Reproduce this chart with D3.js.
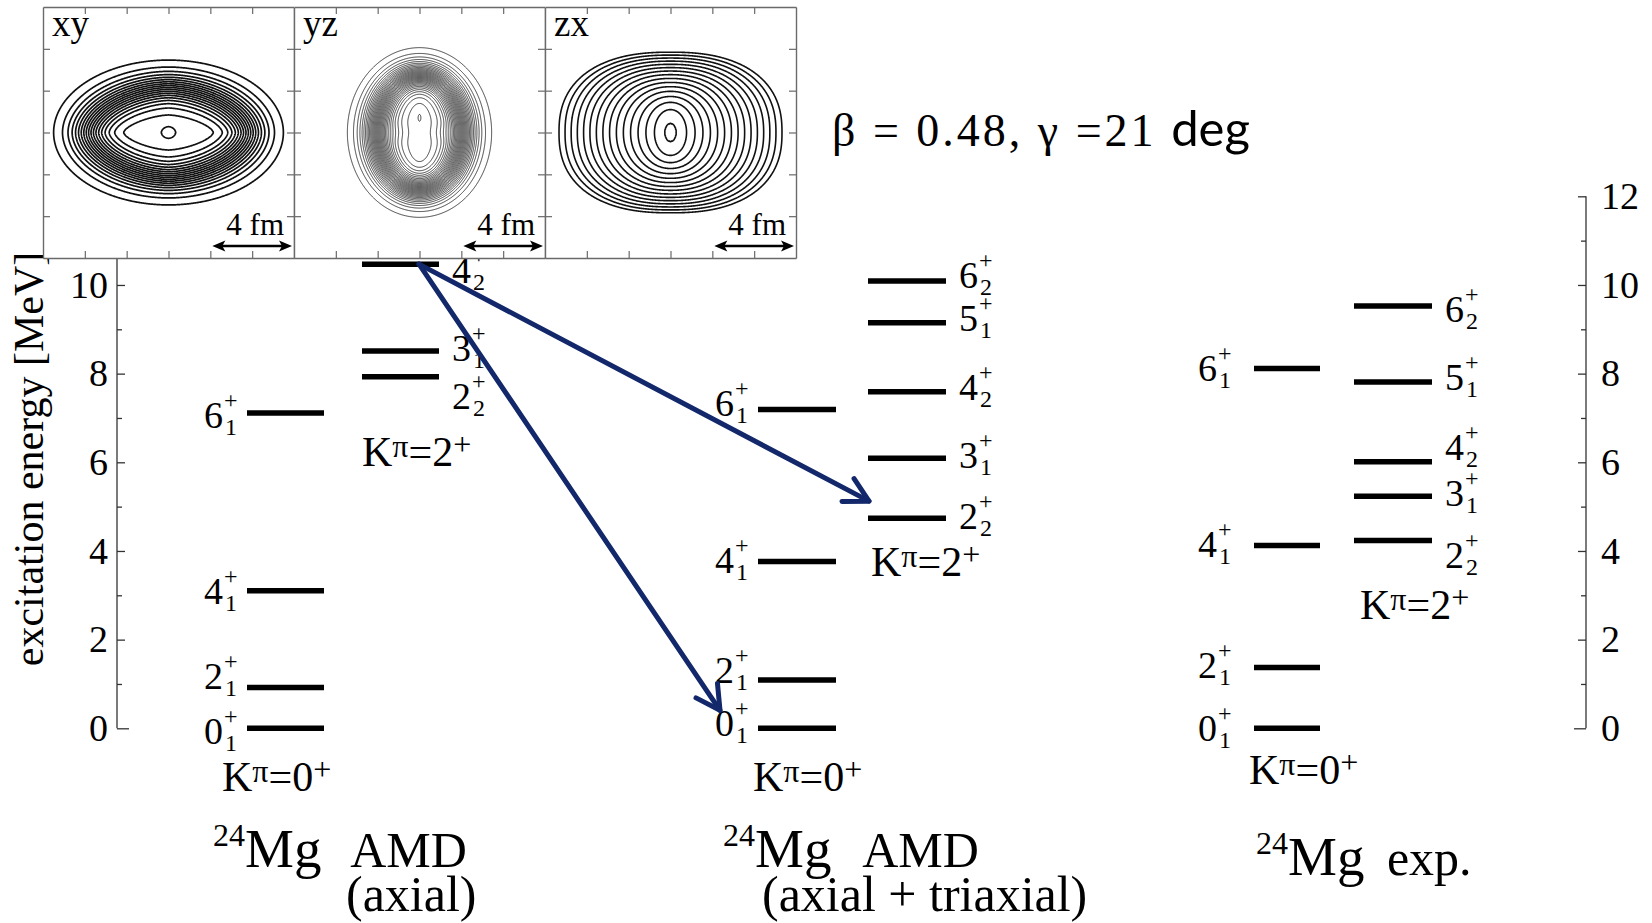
<!DOCTYPE html>
<html>
<head>
<meta charset="utf-8">
<script src="https://cdn.jsdelivr.net/npm/d3@7"></script>
<style>
  html, body { margin: 0; padding: 0; background: #fff; }
  svg { display: block; }
  text { font-family: "Liberation Serif", "Times New Roman", serif; fill: #000; }
</style>
</head>
<body>
<svg id="chart" width="1652" height="923"></svg>
<script>
// ---------------- level energies (MeV) ----------------
const groundSpins = [0, 2, 4, 6];
const groundIndex = [1, 1, 1, 1];
const groundAxial = [0, 0.92, 3.10, 7.11];
const groundTriaxial = [0, 1.09, 3.76, 7.19];
const groundExp = [0, 1.369, 4.123, 8.113];

const gammaSpinsAxial = [2, 3, 4];
const gammaIndexAxial = [2, 1, 2];
const gammaAxial = [7.93, 8.51, 10.47];

const gammaSpins = [2, 3, 4, 5, 6];
const gammaIndex = [2, 1, 2, 1, 2];
const gammaTriaxial = [4.74, 6.09, 7.59, 9.15, 10.09];
const gammaExp = [4.238, 5.235, 6.010, 7.812, 9.528];

const energyTicks = [0, 2, 4, 6, 8, 10, 12];
const energyMinorTicks = [1, 3, 5, 7, 9, 11];

const spectrumTitles = [
  { key: "axial", line1: "AMD", line2: "(axial)" },
  { key: "triaxial", line1: "AMD", line2: "(axial + triaxial)" },
  { key: "exp", line1: "exp.", line2: "" }
];
const deformationText = "β = 0.48, γ =21 ";
const deformationUnit = "deg";

// transitions drawn as arrows: [band, level index]
const transitions = [
  { from: ["axial:K2", 2], to: ["triaxial:K2", 0] },
  { from: ["axial:K2", 2], to: ["triaxial:K0", 0] }
];

// density-map insets
const planes = ["xy", "yz", "zx"];
const fmTicks = [-4, -2, 0, 2, 4];
const scaleBarFm = [2, 6];

// ---------------- layout ----------------
const svg = d3.select("#chart");
const y = d3.scaleLinear().domain([0, 12]).range([728.3, 196.3]);

const bands = [
  { key: "axial:K0", K: 0, energies: groundAxial, spins: groundSpins, index: groundIndex },
  { key: "axial:K2", K: 2, energies: gammaAxial, spins: gammaSpinsAxial, index: gammaIndexAxial },
  { key: "triaxial:K0", K: 0, energies: groundTriaxial, spins: groundSpins, index: groundIndex },
  { key: "triaxial:K2", K: 2, energies: gammaTriaxial, spins: gammaSpins, index: gammaIndex },
  { key: "exp:K0", K: 0, energies: groundExp, spins: groundSpins, index: groundIndex },
  { key: "exp:K2", K: 2, energies: gammaExp, spins: gammaSpins, index: gammaIndex }
];
const bandByKey = new Map(bands.map(b => [b.key, b]));
const barStart = d3.scaleOrdinal()
  .domain(bands.map(b => b.key))
  .range([247, 362, 758, 868, 1254, 1354]);
const barLength = d3.scaleOrdinal()
  .domain(bands.map(b => b.key))
  .range([77, 77, 78, 78, 66, 78]);
// horizontal gap between a bar and the left edge of its spin label digit
const labelGap = d3.scaleOrdinal()
  .domain(bands.map(b => b.key))
  .range([43, 13, 43, 13, 56, 13]);

// vertical nudges of spin labels so neighbouring labels do not collide
const labelNudge = {
  "axial:K0": [3, -11, 1, 2],
  "axial:K2": [20, -3, 6],
  "triaxial:K0": [-5, -9, -1, -6],
  "triaxial:K2": [-2, -3, -4, -4, -5],
  "exp:K0": [0, -2, -1, 0],
  "exp:K2": [15, -3, -14, -4, 4]
};
// position of the K^pi tag of each band [x, baseline]
const bandTagPos = {
  "axial:K0": [222, 791], "axial:K2": [362, 466],
  "triaxial:K0": [753, 791], "triaxial:K2": [871, 576],
  "exp:K0": [1249, 784], "exp:K2": [1360, 619]
};
const titlePos = {
  axial: { x: 213, y: 867, gap: 19, x2: 346, y2: 911 },
  triaxial: { x: 723, y: 867, gap: 21, x2: 762, y2: 911 },
  exp: { x: 1256, y: 875, gap: 10 }
};

// ---------------- energy axes ----------------
function styleAxis(g, size) {
  g.attr("font-family", null).attr("font-size", null);
  g.selectAll(".tick line").attr("stroke", "#333").attr("stroke-width", 1.3);
  g.selectAll(".tick text").attr("font-size", size).attr("fill", "#000")
    .style("font-family", '"Liberation Serif","Times New Roman",serif');
}
function drawEnergyAxis(x, side) {
  const major = (side === "left" ? d3.axisLeft(y) : d3.axisRight(y))
    .tickValues(energyTicks).tickSize(-8).tickSizeOuter(0)
    .tickPadding(side === "left" ? 9 : 15).tickFormat(d3.format("d"));
  const minor = (side === "left" ? d3.axisLeft(y) : d3.axisRight(y))
    .tickValues(energyMinorTicks).tickSize(-5).tickSizeOuter(0).tickFormat("");
  const g = svg.append("g").attr("transform", `translate(${x},0)`);
  const gMaj = g.append("g").call(major);
  const gMin = g.append("g").call(minor);
  gMaj.select(".domain").remove();
  gMin.select(".domain").remove();
  styleAxis(gMaj, 38);
  styleAxis(gMin, 38);
  gMaj.selectAll(".tick line").filter(d => d === 0)
    .attr("x2", side === "left" ? 12 : -12);
  g.append("line").attr("x1", 0).attr("x2", 0)
    .attr("y1", y(0)).attr("y2", y(12))
    .attr("stroke", "#333").attr("stroke-width", 1.3);
}
drawEnergyAxis(117, "left");
drawEnergyAxis(1586, "right");

svg.append("text")
  .attr("transform", "translate(43,459) rotate(-90)")
  .attr("text-anchor", "middle")
  .attr("font-size", 42)
  .text("excitation energy [MeV]");

// ---------------- levels ----------------
const gLevels = svg.append("g");
bands.forEach(b => {
  const x0 = barStart(b.key), len = barLength(b.key);
  const g = gLevels.append("g");
  g.selectAll("line.level").data(b.energies).join("line")
    .attr("class", "level")
    .attr("x1", x0).attr("x2", x0 + len)
    .attr("y1", d => y(d)).attr("y2", d => y(d))
    .attr("stroke", "#000").attr("stroke-width", 5.5);

  const lab = g.selectAll("g.lab").data(b.energies).join("g").attr("class", "lab");
  lab.each(function (e, i) {
    const base = y(e) + labelNudge[b.key][i] + 12.5;
    const dx = b.K === 0 ? x0 - labelGap(b.key) : x0 + len + labelGap(b.key);
    const t = d3.select(this);
    t.append("text").attr("x", dx).attr("y", base).attr("font-size", 38).text(b.spins[i]);
    t.append("text").attr("x", dx + 20).attr("y", base - 20).attr("font-size", 24).text("+");
    t.append("text").attr("x", dx + 21).attr("y", base + 7).attr("font-size", 24).text(b.index[i]);
  });

  const [tx, ty] = bandTagPos[b.key];
  const tag = g.append("text").attr("x", tx).attr("y", ty).attr("font-size", 42);
  tag.append("tspan").text("K");
  tag.append("tspan").attr("font-size", 32).attr("dy", -9).text("π");
  tag.append("tspan").attr("dy", 9).text("=" + b.K);
  tag.append("tspan").attr("font-size", 32).attr("dy", -11).text("+");
});

// ---------------- spectrum titles ----------------
spectrumTitles.forEach(s => {
  const p = titlePos[s.key];
  const t = svg.append("text").attr("x", p.x).attr("y", p.y).attr("font-size", 50);
  t.append("tspan").attr("font-size", 32).attr("dy", -21).text("24");
  t.append("tspan").attr("font-size", 55).attr("dy", 21).text("Mg");
  t.append("tspan").attr("dx", p.gap).text(" " + s.line1);
  if (s.line2) {
    svg.append("text").attr("x", p.x2).attr("y", p.y2).attr("font-size", 50).text(s.line2);
  }
});

// deformation parameters
const dtext = svg.append("text").attr("x", 832).attr("y", 146).attr("font-size", 46);
dtext.append("tspan").attr("letter-spacing", 3).text(deformationText);
dtext.append("tspan").attr("font-size", 49)
  .style("font-family", "Lato, 'Open Sans', sans-serif").text(deformationUnit);

// ---------------- transition arrows ----------------
const arrowStartAlong = 57;           // px along the origin bar
const arrowTipOffset = [[1, -17], [-38, -18]];
const gArrows = svg.append("g")
  .attr("stroke", "#12286a").attr("stroke-width", 5)
  .attr("fill", "none").attr("stroke-linecap", "round").attr("stroke-linejoin", "round");
transitions.forEach((tr, k) => {
  const fb = bandByKey.get(tr.from[0]), tb = bandByKey.get(tr.to[0]);
  const sx = barStart(tr.from[0]) + arrowStartAlong;
  const sy = y(fb.energies[tr.from[1]]);
  const ex = barStart(tr.to[0]) + arrowTipOffset[k][0];
  const ey = y(tb.energies[tr.to[1]]) + arrowTipOffset[k][1];
  const ang = Math.atan2(ey - sy, ex - sx);
  const L = 27, h = 0.5;
  gArrows.append("line").attr("x1", sx).attr("y1", sy).attr("x2", ex).attr("y2", ey);
  const a1 = [ex + L * Math.cos(ang + Math.PI - h), ey + L * Math.sin(ang + Math.PI - h)];
  const a2 = [ex + L * Math.cos(ang + Math.PI + h), ey + L * Math.sin(ang + Math.PI + h)];
  gArrows.append("path").attr("d", `M${a1[0]},${a1[1]}L${ex},${ey}L${a2[0]},${a2[1]}`);
});

// ---------------- density-map insets ----------------
// Each map is a model density: a family of nested closed curves C(s)
// (superellipses whose half axes grow from the central plateau, s=0,
// to the surface, s=1), mapped to density through a profile; contours
// are then traced with d3.contours at equal density steps.
const densityModels = {
  xy: { a: [2.15, 5.49], b: [0.84, 3.46], p: [1.55, 2.0], qa: 1, qb: 1, pinch: 0,
        profile: s => 1 / (1 + Math.exp((s - 0.5) / 0.17)),
        bumps: [{ x: 0, y: 0, amp: 0.035, sx: 0.25, sy: 0.25 }],
        levels: d3.range(1, 20).map(k => k * 0.05).concat([1.0]),
        width: 1.7 },
  yz: { a: [0.48, 3.59], b: [1.25, 4.19], p: [2, 2], qa: 1, qb: 1, pinch: 0.2,
        profile: s => 1 / (1 + Math.exp((s - 0.5) / 0.13)),
        bumps: [{ x: 0, y: 0.72, amp: 0.03, sx: 0.04, sy: 0.1 }],
        levels: d3.range(1, 34).map(k => k * 0.0294).concat([1.0]),
        width: 0.8 },
  zx: { a: [0.26, 5.33], b: [0.42, 3.84], p: [2.0, 2.4], qa: 0.85, qb: 0.6, pinch: 0,
        profile: s => 1 - s,
        bumps: [],
        levels: d3.range(0, 16).map(k => 1 - k / 15),
        width: 1.6 }
};

function curveParam(x, y0, m) {
  const ax = Math.abs(x), ay = Math.abs(y0);
  const pinchY = m.pinch ? m.pinch * Math.exp(-y0 * y0 / 0.18) : 0;
  const G = s => {
    let a = m.a[0] + (m.a[1] - m.a[0]) * (m.qa === 1 ? s : Math.pow(s, m.qa));
    const b = m.b[0] + (m.b[1] - m.b[0]) * (m.qb === 1 ? s : Math.pow(s, m.qb));
    const p = m.p[0] + (m.p[1] - m.p[0]) * Math.min(s, 1);
    if (pinchY) a *= 1 - pinchY * Math.max(0, 1 - s / 0.35);
    const u = ax / a, v = ay / b;
    return p === 2 ? u * u + v * v : Math.pow(u, p) + Math.pow(v, p);
  };
  const g0 = G(0);
  if (g0 <= 1) return -(1 - Math.sqrt(g0)) * 0.3;
  let lo = 0, hi = 2;
  if (G(hi) > 1) return hi;
  for (let k = 0; k < 26; k++) {
    const mid = (lo + hi) / 2;
    if (G(mid) > 1) lo = mid; else hi = mid;
  }
  return (lo + hi) / 2;
}

const insetSize = 251, insetTop = 7;
const insetLeft = [43, 294, 545];
const N = 420;

const gInsets = svg.append("g");
planes.forEach((plane, pi) => {
  const x0 = insetLeft[pi];
  const xs = d3.scaleLinear().domain([-6, 6]).range([x0, x0 + insetSize]);
  const ys = d3.scaleLinear().domain([-6, 6]).range([insetTop + insetSize, insetTop]);
  const g = gInsets.append("g");
  g.append("rect").attr("x", x0).attr("y", insetTop)
    .attr("width", insetSize).attr("height", insetSize).attr("fill", "#fff");

  const m = densityModels[plane];
  const values = new Float64Array(N * N);
  for (let j = 0; j < N; j++) {
    const yy = 6 - (j + 0.5) * 12 / N;
    for (let i = 0; i < N; i++) {
      const xx = -6 + (i + 0.5) * 12 / N;
      let v = m.profile(curveParam(xx, yy, m));
      for (const bp of m.bumps) {
        v += bp.amp * Math.exp(-((xx - bp.x) ** 2) / (2 * bp.sx * bp.sx) - ((yy - bp.y) ** 2) / (2 * bp.sy * bp.sy));
      }
      values[j * N + i] = v;
    }
  }
  const contours = d3.contours().size([N, N]).thresholds(m.levels)(values);
  const path = d3.geoPath(d3.geoIdentity().scale(insetSize / N).translate([x0, insetTop]));
  g.append("g").selectAll("path").data(contours).join("path")
    .attr("d", path).attr("fill", "none")
    .attr("stroke", "#111").attr("stroke-width", m.width);

  // frame with inward ticks on all four sides
  const frame = [
    [d3.axisTop(xs), `translate(0,${insetTop})`],
    [d3.axisBottom(xs), `translate(0,${insetTop + insetSize})`],
    [d3.axisLeft(ys), `translate(${x0},0)`],
    [d3.axisRight(ys), `translate(${x0 + insetSize},0)`]
  ];
  frame.forEach(([ax, tr]) => {
    const ga = g.append("g").attr("transform", tr)
      .call(ax.tickValues(fmTicks).tickSize(-7).tickSizeOuter(0).tickFormat(""));
    ga.select(".domain").attr("stroke", "#6a6a6a").attr("stroke-width", 1.4);
    ga.selectAll(".tick line").attr("stroke", "#6a6a6a").attr("stroke-width", 1.2);
  });

  g.append("text").attr("x", x0 + 9).attr("y", 36).attr("font-size", 37).text(plane);
  g.append("text").attr("x", xs(6) - 10).attr("y", 235).attr("text-anchor", "end")
    .attr("font-size", 31).text("4 fm");

  // 4 fm scale bar with two arrowheads
  const bx1 = xs(scaleBarFm[0]) + 2, bx2 = xs(scaleBarFm[1]) - 2, by = 246;
  g.append("line").attr("x1", bx1 + 8).attr("x2", bx2 - 8).attr("y1", by).attr("y2", by)
    .attr("stroke", "#000").attr("stroke-width", 2.6);
  g.append("path").attr("d", `M${bx1},${by}l13,-5.5l-3,5.5l3,5.5z`).attr("fill", "#000");
  g.append("path").attr("d", `M${bx2},${by}l-13,-5.5l3,5.5l-3,5.5z`).attr("fill", "#000");
});
</script>
</body>
</html>
